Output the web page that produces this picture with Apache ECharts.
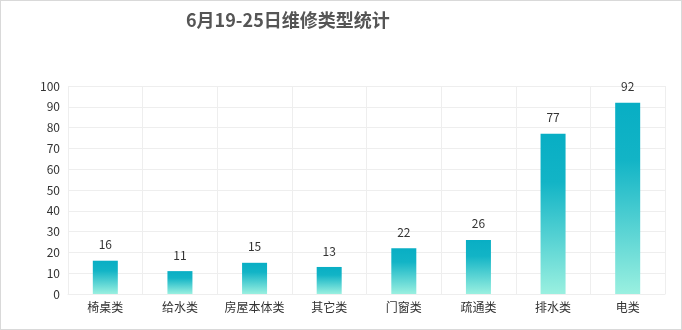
<!DOCTYPE html>
<html>
<head>
<meta charset="utf-8">
<script src="https://cdn.jsdelivr.net/npm/echarts@6/dist/echarts.min.js"></script>
<style>
html, body { margin: 0; padding: 0; background: #fff; }
#chart { width: 680px; height: 328px; border: 1px solid #d9d9d9; }
</style>
</head>
<body>
<div id="chart"></div>
<script>
// repair types, week of 6/19-25
var categories = ['椅桌类', '给水类', '房屋本体类', '其它类', '门窗类', '疏通类', '排水类', '电类'];
var counts = [16, 11, 15, 13, 22, 26, 77, 92];

var chart = echarts.init(document.getElementById('chart'));
var font = '"Noto Sans CJK SC", "Noto Sans", sans-serif';

var option = {
    animation: false,
    title: {
        text: '6月19-25日维修类型统计',
        left: 180,
        top: 5,
        textStyle: { fontSize: 18, fontWeight: 'bold', color: '#555', fontFamily: font }
    },
    grid: { left: 67, right: 16, top: 85, bottom: 35 },
    xAxis: {
        type: 'category',
        data: categories,
        axisLine: { lineStyle: { color: '#eee' } },
        axisTick: { show: false },
        axisLabel: { color: '#333', fontSize: 12, fontFamily: font, margin: 7, interval: 0 },
        splitLine: { show: true, interval: 0, lineStyle: { color: '#eee' } }
    },
    yAxis: {
        type: 'value',
        min: 0,
        max: 100,
        interval: 10,
        axisLine: { show: false },
        axisTick: { show: false },
        axisLabel: { color: '#333', fontSize: 12, fontFamily: font, margin: 8 },
        splitLine: { lineStyle: { color: '#eee' } }
    },
    series: [{
        type: 'bar',
        data: counts,
        barWidth: 25,
        label: {
            show: true,
            position: 'top',
            distance: 10,
            color: '#333',
            fontSize: 12,
            fontFamily: font
        },
        itemStyle: {
            color: new echarts.graphic.LinearGradient(0, 0, 0, 1, [
                { offset: 0, color: '#08aec4' },
                { offset: 0.3, color: '#12b4c6' },
                { offset: 1, color: '#9af0e0' }
            ])
        }
    }]
};
chart.setOption(option);
</script>
</body>
</html>
